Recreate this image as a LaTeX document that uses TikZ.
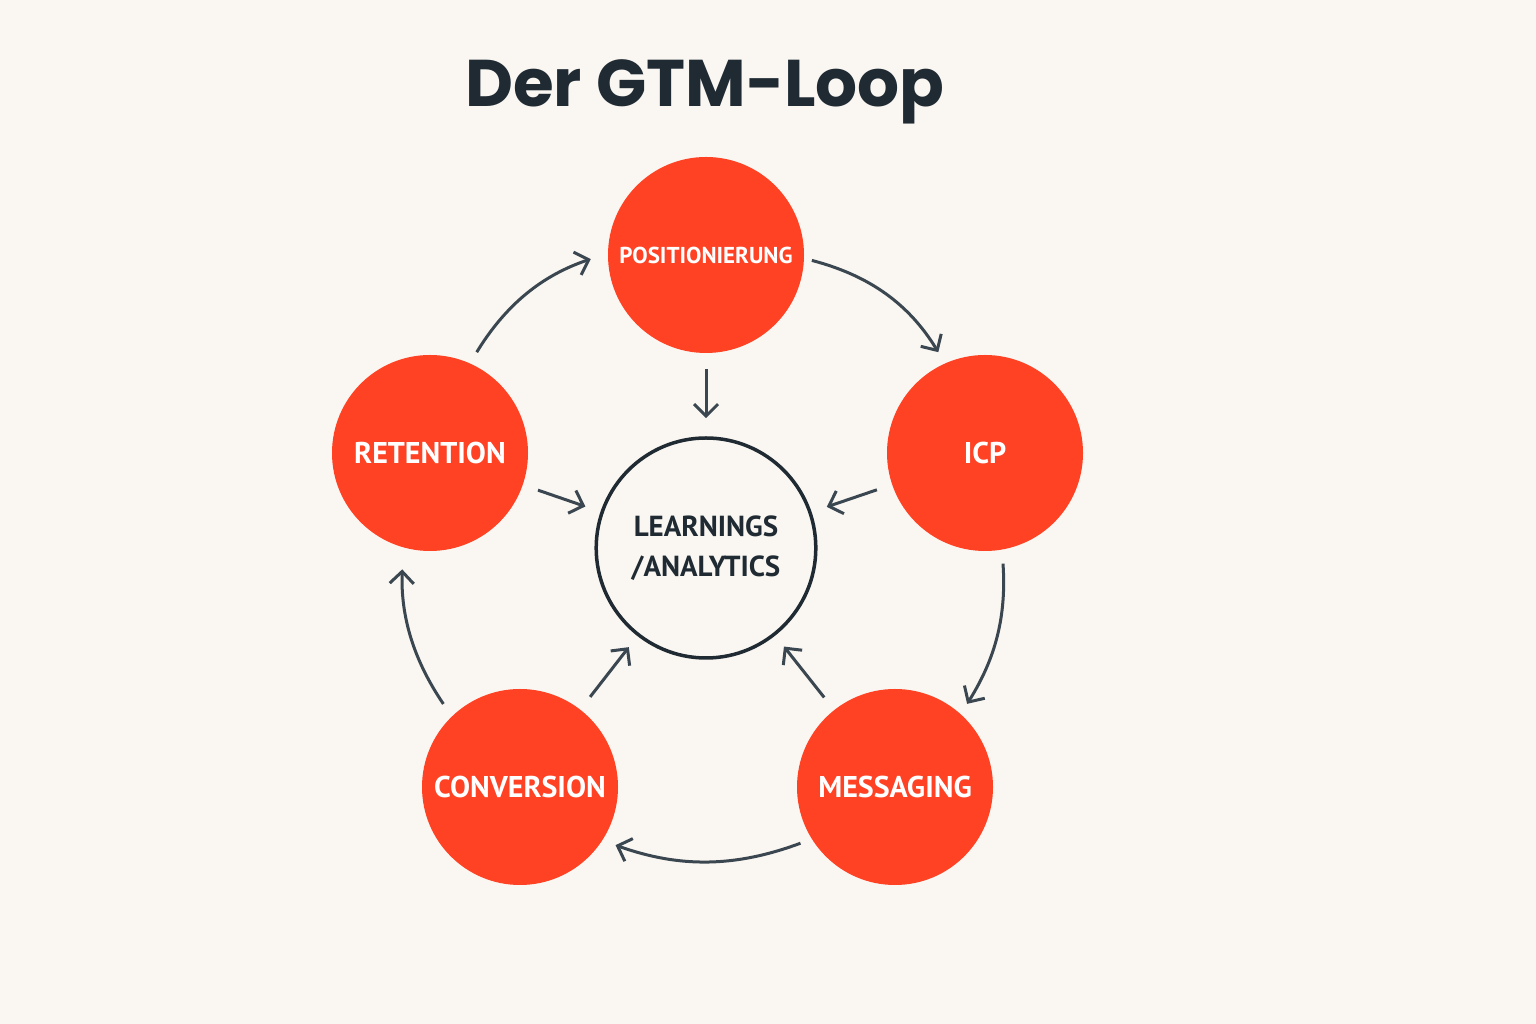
\documentclass[tikz,border=0pt]{standalone}
\usepackage{fontspec}
\setmainfont{PT Sans}
\newfontfamily\titlefont{Poppins}
\usetikzlibrary{arrows.meta,shapes.geometric}
\definecolor{bg}{HTML}{FAF7F2}
\definecolor{redc}{HTML}{FF4124}
\definecolor{ink}{HTML}{1F2A33}
\definecolor{arr}{HTML}{3A4650}
\tikzset{
  stage/.style={circle,fill=redc,minimum size=196pt,inner sep=0pt,text=white,font=\bfseries\fontsize{30}{32}\selectfont},
  flow/.style={draw=arr,line width=3pt,-{Straight Barb[length=12pt,width=24pt,line width=3pt]}},
}
\begin{document}
\begin{tikzpicture}[x=1pt,y=1pt]
\fill[bg] (0,0) rectangle (1536,1024);
\useasboundingbox (0,0) rectangle (1536,1024);
\node[font=\titlefont\bfseries\fontsize{66}{70}\selectfont,text=ink] (title) at (705,932) {Der GTM-Loop};
\node[stage,font=\bfseries\fontsize{23}{25}\selectfont] (pos) at (706,769) {POSITIONIERUNG};
\node[stage] (icp) at (985,571) {ICP};
\node[stage] (ret) at (430,571) {RETENTION};
\node[stage] (conv) at (520,237) {CONVERSION};
\node[stage] (mess) at (895,237) {MESSAGING};
\node[ellipse,draw=ink,line width=3.5pt,minimum width=206pt,minimum height=220pt,align=center,text=ink,font=\bfseries\fontsize{29}{40}\selectfont] (ctr) at (706,476) {LEARNINGS\\/ANALYTICS};
\draw[flow,shorten <=8pt,shorten >=13pt] (pos.-2) to[bend left=22] (icp.114);
\draw[flow,shorten <=14pt,shorten >=12pt] (icp.-80) to[bend left=18] (mess.48);
\draw[flow,shorten <=12pt,shorten >=14pt] (mess.212) to[bend left=20] (conv.-33);
\draw[flow,shorten <=15pt,shorten >=22pt] (conv.134) to[bend left=18] (ret.-106);
\draw[flow,shorten <=13pt,shorten >=18pt] (ret.66) to[bend left=20] (pos.179);
\draw[flow,shorten <=16pt,shorten >=18pt] (pos) -- (ctr);
\draw[flow,shorten <=16pt,shorten >=16pt] (ret) -- (ctr);
\draw[flow,shorten <=16pt,shorten >=16pt] (icp) -- (ctr);
\draw[flow,shorten <=16pt,shorten >=14pt] (conv) -- (ctr);
\draw[flow,shorten <=16pt,shorten >=14pt] (mess) -- (ctr);
\end{tikzpicture}
\end{document}
